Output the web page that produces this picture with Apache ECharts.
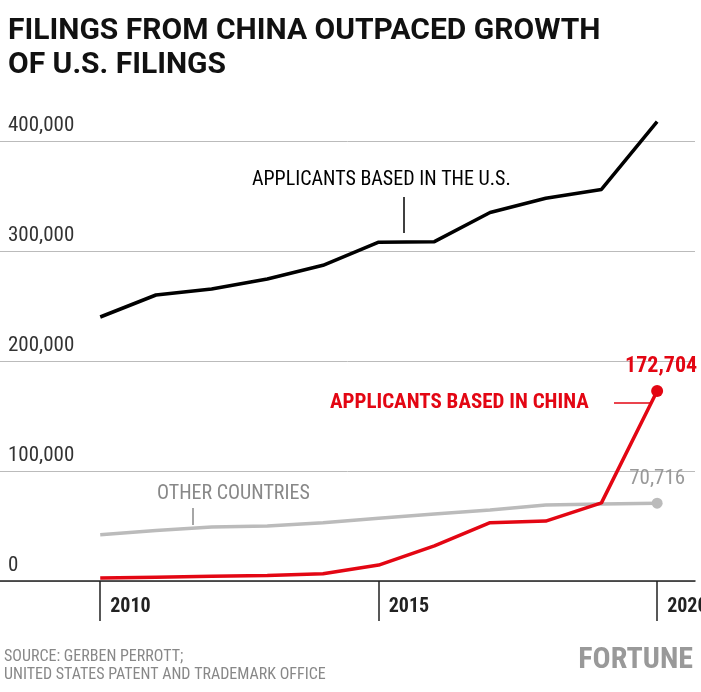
<!DOCTYPE html>
<html><head><meta charset="utf-8">
<script src="https://cdn.jsdelivr.net/npm/echarts@6/dist/echarts.min.js"></script>
<style>html,body{margin:0;padding:0;background:#fff}#c{width:701px;height:692px}</style>
</head><body><div id="c"></div>
<script>
const years = [2010,2011,2012,2013,2014,2015,2016,2017,2018,2019,2020];
const usValues = [240000,260000,265500,274500,287000,308000,308500,335000,348000,356000,417602];
const chinaValues = [2700,3500,4300,5000,6500,14500,32000,53000,54500,71000,172704];
const otherValues = [42000,46000,49000,50000,53000,57000,61000,64500,69000,70000,70716];
const yTicks = [0,100000,200000,300000,400000];
const xTicks = [2010,2015,2020];
const F = "'Liberation Sans Narrow','Roboto Condensed','Roboto',sans-serif";
const pair = v => years.map((y,i)=>[y,v[i]]);
const chart = echarts.init(document.getElementById('c'));
chart.setOption({
  animation:false,
  grid:{left:0,right:6,top:141,bottom:111,outerBoundsMode:'none',containLabel:false},
  xAxis:{type:'value',min:2008.2,max:2020.68,
    axisLine:{lineStyle:{color:'#222',width:1.5}},
    axisTick:{show:true,length:40,lineStyle:{color:'#222',width:1.5},customValues:xTicks},
    axisLabel:{customValues:xTicks,align:'left',margin:16,padding:[0,0,0,10],fontFamily:F,fontWeight:'bold',fontSize:20,color:'#222',formatter:v=>String(v)},
    splitLine:{show:false}},
  yAxis:{type:'value',min:0,max:400000,interval:100000,
    axisLine:{show:false},axisTick:{show:false},
    splitLine:{lineStyle:{color:'#bbb'}},
    axisLabel:{inside:true,verticalAlign:'bottom',margin:8,padding:[0,0,5,0],fontFamily:F,fontSize:21,color:'#333',
      formatter:v=>v.toLocaleString('en-US')}},
  series:[
    {type:'line',clip:false,data:pair(otherValues),symbol:'none',lineStyle:{color:'#bbb',width:3.5},
      markPoint:{data:[{coord:[2020,70716]}],symbol:'circle',symbolSize:11,itemStyle:{color:'#bbb'},
        label:{show:true,formatter:'70,716',position:'top',distance:8,fontFamily:F,fontSize:21,color:'#999'}}},
    {type:'line',clip:false,data:pair(chinaValues),symbol:'none',lineStyle:{color:'#e30613',width:3.5},
      markPoint:{data:[{coord:[2020,172704]}],symbol:'circle',symbolSize:12,itemStyle:{color:'#e30613'},
        label:{show:true,formatter:'172,704',position:'top',distance:8,offset:[4,0],fontFamily:F,fontWeight:'bold',fontSize:22,color:'#e30613'}}},
    {type:'line',clip:false,data:pair(usValues),symbol:'none',lineStyle:{color:'#000',width:3.5},
      markPoint:{data:[{coord:[2020,417602]}],symbol:'circle',symbolSize:12,itemStyle:{color:'#000'},
        label:{show:true,formatter:'417,602',position:'left',distance:8,fontFamily:F,fontSize:21,color:'#000'}}}
  ],
  graphic:[
    {type:'text',left:8,top:14,style:{text:'FILINGS FROM CHINA OUTPACED GROWTH\nOF U.S. FILINGS',font:'bold 30px Roboto,sans-serif',fill:'#111',lineHeight:34}},
    {type:'text',left:252,top:170,style:{text:'APPLICANTS BASED IN THE U.S.',font:'20px '+F,fill:'#000'}},
    {type:'line',shape:{x1:404,y1:197,x2:404,y2:233},style:{stroke:'#000',lineWidth:1.5}},
    {type:'text',left:330,top:392,style:{text:'APPLICANTS BASED IN CHINA',font:'bold 21px '+F,fill:'#e30613'}},
    {type:'line',shape:{x1:614,y1:403,x2:652,y2:403},style:{stroke:'#e30613',lineWidth:1.5}},
    {type:'text',left:157,top:484,style:{text:'OTHER COUNTRIES',font:'20px '+F,fill:'#888'}},
    {type:'line',shape:{x1:193,y1:508,x2:193,y2:525},style:{stroke:'#888',lineWidth:1.5}},
    {type:'text',left:4,top:648,style:{text:'SOURCE: GERBEN PERROTT;\nUNITED STATES PATENT AND TRADEMARK OFFICE',font:'16px '+F,fill:'#888',lineHeight:18}},
    {type:'text',right:8,top:645,style:{text:'FORTUNE',font:'bold 30px '+F,fill:'#999'}}
  ]
});
</script></body></html>
